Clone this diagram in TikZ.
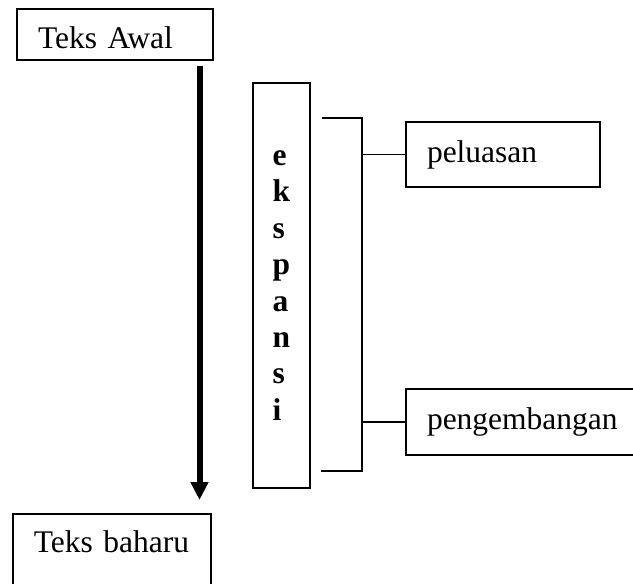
\documentclass[tikz,border=0pt]{standalone}
\usepackage{fontspec}
\setmainfont{Liberation Serif}
\usetikzlibrary{positioning,arrows.meta}

\begin{document}
\begin{tikzpicture}
  [x=1pt,y=-1pt,
   box/.style={draw, rectangle, line width=1.7pt, inner xsep=21pt, align=left,
     font=\fontsize{31.5}{36.4}\selectfont},
   link/.style={line width=1.7pt}]
  \clip (0,0) rectangle (633,584);

  \node[box, minimum height=51pt, text width=154pt, text height=27pt,
        text depth=0pt] (awal) at (115,34.5) {Teks Awal};
  \node[box, anchor=north west, text width=156pt, text height=21.5pt,
        text depth=40pt, inner ysep=17.5pt] (baharu) at (12,513) {Teks baharu};

  % tall box with the word written downwards
  \node[box, inner xsep=0pt, minimum width=57pt, minimum height=405pt,
        font=\fontsize{31.5}{36.4}\selectfont\bfseries] (eks) at (281.5,285.5)
        {e\\k\\s\\p\\a\\n\\s\\i};

  \node[box, minimum height=65pt, text width=152pt] (pel) at (503,154.5) {peluasan};
  \node[box, minimum height=66pt, text width=194pt] (peng) at (524,422) {pengembangan};

  % main arrow
  \coordinate (atop) at (199.5,66);
  \coordinate (abot) at (199.5,500);
  \draw[line width=6pt, -{Triangle[length=18pt,width=17pt]}] (atop) -- (abot);

  % bracket
  \coordinate (bt) at (322,118);
  \coordinate (br) at (362,118);
  \coordinate (bb) at (321,471);
  \draw[link] (bt) -- (br) -- (br |- bb) -- (bb);
  \draw[link] (pel.west) -- (pel.west -| br);
  \draw[link] (peng.west) -- (peng.west -| br);
\end{tikzpicture}
\end{document}
